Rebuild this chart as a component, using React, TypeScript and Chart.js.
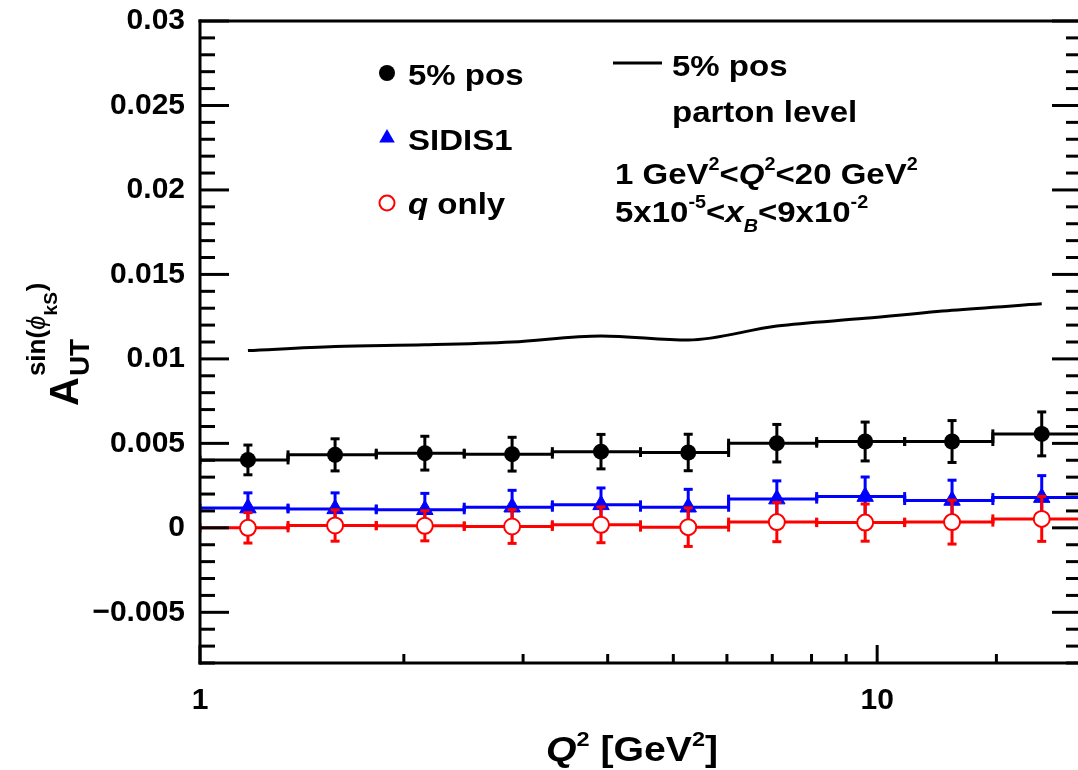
import React, { useEffect, useRef } from 'react';
import { Chart, registerables } from 'chart.js';

Chart.register(...registerables);

const FONT = '"Liberation Sans", Arial, Helvetica, "DejaVu Sans", sans-serif';

// ---- data ----
const binEdges = [1, 1.349, 1.821, 2.456, 3.314, 4.472, 6.034, 8.141, 10.98, 14.82, 20];
const binCenters = [1.177, 1.583, 2.148, 2.89, 3.91, 5.26, 7.11, 9.6, 12.9, 17.5];

const pos5Values = [0.00402, 0.00432, 0.00442, 0.00436, 0.00451, 0.00446, 0.00501, 0.00511, 0.00511, 0.00556];
const pos5Errors = [0.00088, 0.00095, 0.001, 0.001, 0.00102, 0.00108, 0.00111, 0.00115, 0.00124, 0.0013];

const sidis1Values = [0.00117, 0.00112, 0.00107, 0.00122, 0.00136, 0.00122, 0.0017, 0.00185, 0.00162, 0.00179];
const sidis1Errors = [0.0009, 0.00095, 0.00097, 0.001, 0.001, 0.00106, 0.00108, 0.00116, 0.0012, 0.0013];

const qOnlyValues = [0.0, 0.00014, 0.00012, 0.00008, 0.00018, 0.00004, 0.00034, 0.00031, 0.00034, 0.00053];
const qOnlyErrors = [0.0009, 0.00093, 0.00089, 0.001, 0.00106, 0.00114, 0.00116, 0.0011, 0.0013, 0.00133];

const partonValues = [0.01049, 0.01073, 0.01083, 0.011, 0.01136, 0.01112, 0.01195, 0.0124, 0.01288, 0.01326];

const yTickValues = [-0.005, 0, 0.005, 0.01, 0.015, 0.02, 0.025, 0.03];
const yTickLabels = ['\u22120.005', '0', '0.005', '0.01', '0.015', '0.02', '0.025', '0.03'];
const xTickValues = [1, 10];
const xTickLabels = ['1', '10'];

const BLACK = '#000000';
const BLUE = '#0000ff';
const RED = '#ff0000';

function yLabel(v: number): string {
  for (let i = 0; i < yTickValues.length; i++) {
    if (Math.abs(v - yTickValues[i]) < 1e-7) return yTickLabels[i];
  }
  return '';
}
function xLabel(v: number): string {
  for (let i = 0; i < xTickValues.length; i++) {
    if (Math.abs(v - xTickValues[i]) < 1e-9 * xTickValues[i]) return xTickLabels[i];
  }
  return '';
}

function stepData(values: number[]) {
  const pts = values.map((v, i) => ({ x: binEdges[i], y: v }));
  pts.push({ x: binEdges[binEdges.length - 1], y: values[values.length - 1] });
  return pts;
}
function pointData(values: number[]) {
  return values.map((v, i) => ({ x: binCenters[i], y: v }));
}

type Seg = { t: string; size?: number; italic?: boolean; bold?: boolean; dy?: number; color?: string };

function fontOf(s: Seg, def: number) {
  return `${s.italic ? 'italic ' : ''}${s.bold === false ? '' : 'bold '}${s.size || def}px ${FONT}`;
}

function richText(ctx: CanvasRenderingContext2D, segs: Seg[], x: number, y: number, def: number, sx = 1, center = false) {
  ctx.save();
  ctx.textBaseline = 'alphabetic';
  ctx.textAlign = 'left';
  let total = 0;
  for (const s of segs) {
    ctx.font = fontOf(s, def);
    total += ctx.measureText(s.t).width;
  }
  ctx.translate(x, y);
  ctx.scale(sx, 1);
  let cx = center ? -total / 2 : 0;
  for (const s of segs) {
    ctx.font = fontOf(s, def);
    ctx.fillStyle = s.color || BLACK;
    ctx.fillText(s.t, cx, s.dy || 0);
    cx += ctx.measureText(s.t).width;
  }
  ctx.restore();
}

function line(ctx: CanvasRenderingContext2D, x1: number, y1: number, x2: number, y2: number) {
  ctx.beginPath();
  ctx.moveTo(x1, y1);
  ctx.lineTo(x2, y2);
  ctx.stroke();
}

const seriesList = [
  { dsIndex: 2, values: pos5Values, errors: pos5Errors, color: BLACK, gap: 0 },
  { dsIndex: 4, values: sidis1Values, errors: sidis1Errors, color: BLUE, gap: 0 },
  { dsIndex: 6, values: qOnlyValues, errors: qOnlyErrors, color: RED, gap: 8 },
];

const errorBarPlugin = {
  id: 'errorBars',
  beforeDatasetDraw(chart: any, args: any) {
    const s = seriesList.find((q) => q.dsIndex === args.index);
    if (!s) return;
    const ctx: CanvasRenderingContext2D = chart.ctx;
    const xs = chart.scales.x;
    const ys = chart.scales.y;
    const a = chart.chartArea;
    ctx.save();
    ctx.beginPath();
    ctx.rect(a.left, a.top, a.right - a.left, a.bottom - a.top);
    ctx.clip();
    ctx.strokeStyle = s.color;
    ctx.lineWidth = 3;
    ctx.lineCap = 'butt';
    for (let i = 0; i < s.values.length; i++) {
      const px = xs.getPixelForValue(binCenters[i]);
      const py = ys.getPixelForValue(s.values[i]);
      const yt = ys.getPixelForValue(s.values[i] + s.errors[i]);
      const yb = ys.getPixelForValue(s.values[i] - s.errors[i]);
      if (s.gap) {
        line(ctx, px, yt, px, py - s.gap);
        line(ctx, px, py + s.gap, px, yb);
      } else {
        line(ctx, px, yt, px, yb);
      }
      line(ctx, px - 4.5, yt, px + 4.5, yt);
      line(ctx, px - 4.5, yb, px + 4.5, yb);
      for (const e of [binEdges[i], binEdges[i + 1]]) {
        const ex = xs.getPixelForValue(e);
        line(ctx, ex, py - 4.5, ex, py + 4.5);
      }
    }
    ctx.restore();
  },
};

const framePlugin = {
  id: 'frameTicks',
  afterDraw(chart: any) {
    const ctx: CanvasRenderingContext2D = chart.ctx;
    const { left, right, top, bottom } = chart.chartArea;
    const xs = chart.scales.x;
    const ys = chart.scales.y;
    ctx.save();
    ctx.strokeStyle = BLACK;
    ctx.lineWidth = 3;
    ctx.lineCap = 'butt';
    ys.ticks.forEach((t: any) => {
      const py = ys.getPixelForValue(t.value);
      const L = yLabel(t.value) !== '' ? 29 : 15;
      line(ctx, left, py, left + L, py);
      line(ctx, right, py, right - L, py);
    });
    xs.ticks.forEach((t: any) => {
      const px = xs.getPixelForValue(t.value);
      const L = xLabel(t.value) !== '' ? 18 : 9;
      line(ctx, px, bottom, px, bottom - L);
    });
    ctx.lineCap = 'square';
    line(ctx, left, top, right, top);
    line(ctx, right, top, right, bottom);
    line(ctx, left, top, left, bottom);
    line(ctx, left, bottom, right, bottom);
    ctx.restore();

    // axis titles
    richText(ctx, [
      { t: 'Q', italic: true },
      { t: '2', size: 21, dy: -15 },
      { t: ' [GeV' },
      { t: '2', size: 21, dy: -15 },
      { t: ']' },
    ], 632, 761, 35, 1.12, true);

    ctx.save();
    ctx.translate(78, 406);
    ctx.rotate(-Math.PI / 2);
    ctx.fillStyle = BLACK;
    ctx.textBaseline = 'alphabetic';
    ctx.font = `bold 40px ${FONT}`;
    ctx.fillText('A', 0, 0);
    const wA = ctx.measureText('A').width + 1;
    ctx.font = `bold 28px ${FONT}`;
    ctx.fillText('UT', wA, 11);
    let cx = wA;
    ctx.font = `bold 26px ${FONT}`;
    ctx.fillText('sin(', cx, -33);
    cx += ctx.measureText('sin(').width;
    ctx.font = `italic 26px ${FONT}`;
    ctx.fillText('\u03d5', cx, -33);
    cx += ctx.measureText('\u03d5').width;
    ctx.font = `bold 19px ${FONT}`;
    ctx.fillText('kS', cx, -21);
    cx += ctx.measureText('kS').width + 1;
    ctx.font = `bold 26px ${FONT}`;
    ctx.fillText(')', cx, -33);
    ctx.restore();

    // legend (left)
    ctx.save();
    ctx.fillStyle = BLACK;
    ctx.beginPath();
    ctx.arc(387, 73, 8, 0, Math.PI * 2);
    ctx.fill();
    ctx.fillStyle = BLUE;
    ctx.beginPath();
    ctx.moveTo(387, 138 - 9);
    ctx.lineTo(387 + 9 * 0.866, 138 + 4.5);
    ctx.lineTo(387 - 9 * 0.866, 138 + 4.5);
    ctx.closePath();
    ctx.fill();
    ctx.strokeStyle = RED;
    ctx.lineWidth = 2;
    ctx.beginPath();
    ctx.arc(387, 203, 7.5, 0, Math.PI * 2);
    ctx.stroke();
    ctx.strokeStyle = BLACK;
    ctx.lineWidth = 3;
    line(ctx, 613, 63, 662, 63);
    ctx.restore();

    richText(ctx, [{ t: '5% pos' }], 408, 85, 30, 1.1);
    richText(ctx, [{ t: 'SIDIS1' }], 408, 150, 30, 1.1);
    richText(ctx, [{ t: 'q', italic: true }, { t: ' only' }], 408, 214, 30, 1.1);

    richText(ctx, [{ t: '5% pos' }], 672, 76, 30, 1.1);
    richText(ctx, [{ t: 'parton level' }], 672, 122, 30, 1.1);
    richText(ctx, [
      { t: '1 GeV' },
      { t: '2', size: 18, dy: -14 },
      { t: '<' },
      { t: 'Q', italic: true },
      { t: '2', size: 18, dy: -14 },
      { t: '<20 GeV' },
      { t: '2', size: 18, dy: -14 },
    ], 615, 184, 30, 1.1);
    richText(ctx, [
      { t: '5x10' },
      { t: '-5', size: 18, dy: -14 },
      { t: '<' },
      { t: 'x', italic: true },
      { t: 'B', italic: true, size: 18, dy: 10 },
      { t: '<9x10' },
      { t: '-2', size: 18, dy: -14 },
    ], 615, 222, 30, 1.1);
  },
};

export default function App() {
  const ref = useRef<HTMLCanvasElement | null>(null);

  useEffect(() => {
    if (!ref.current) return;
    const tickFont = { family: FONT, size: 30, weight: 'bold' as const };
    const chart = new Chart(ref.current, {
      type: 'line',
      data: {
        datasets: [
          {
            label: '5% pos parton level',
            data: pointData(partonValues),
            borderColor: BLACK,
            borderWidth: 3,
            pointRadius: 0,
            pointHoverRadius: 0,
            fill: false,
            cubicInterpolationMode: 'monotone',
            order: 10,
          },
          {
            label: '5% pos bins',
            data: stepData(pos5Values),
            borderColor: BLACK,
            borderWidth: 3,
            pointRadius: 0,
            pointHoverRadius: 0,
            stepped: 'before',
            fill: false,
            order: 9,
          },
          {
            label: '5% pos',
            data: pointData(pos5Values),
            showLine: false,
            pointStyle: 'circle',
            pointRadius: 8,
            pointBackgroundColor: BLACK,
            pointBorderColor: BLACK,
            pointBorderWidth: 0,
            order: 8,
          },
          {
            label: 'SIDIS1 bins',
            data: stepData(sidis1Values),
            borderColor: BLUE,
            borderWidth: 3,
            pointRadius: 0,
            pointHoverRadius: 0,
            stepped: 'before',
            fill: false,
            order: 7,
          },
          {
            label: 'SIDIS1',
            data: pointData(sidis1Values),
            showLine: false,
            pointStyle: 'triangle',
            pointRadius: 9.5,
            pointBackgroundColor: BLUE,
            pointBorderColor: BLUE,
            pointBorderWidth: 1,
            order: 6,
          },
          {
            label: 'q only bins',
            data: stepData(qOnlyValues),
            borderColor: RED,
            borderWidth: 3,
            pointRadius: 0,
            pointHoverRadius: 0,
            stepped: 'before',
            fill: false,
            order: 5,
          },
          {
            label: 'q only',
            data: pointData(qOnlyValues),
            showLine: false,
            pointStyle: 'circle',
            pointRadius: 8,
            pointBackgroundColor: '#ffffff',
            pointBorderColor: RED,
            pointBorderWidth: 2,
            order: 4,
          },
        ],
      } as any,
      options: {
        responsive: false,
        animation: false,
        events: [],
        layout: { padding: { top: 21, right: 19, left: 0, bottom: 0 } },
        plugins: { legend: { display: false }, tooltip: { enabled: false }, title: { display: false } },
        scales: {
          x: {
            type: 'logarithmic',
            min: 1,
            max: 20,
            position: 'bottom',
            grid: { display: false, drawTicks: false },
            border: { display: false },
            ticks: {
              autoSkip: false,
              maxRotation: 0,
              minRotation: 0,
              padding: 20,
              color: BLACK,
              font: tickFont,
              callback: (v: any) => xLabel(Number(v)),
            },
            afterFit: (s: any) => {
              s.height = 107;
              s.paddingLeft = 0;
              s.paddingRight = 0;
            },
          },
          y: {
            type: 'linear',
            min: -0.008,
            max: 0.03,
            grid: { display: false, drawTicks: false },
            border: { display: false },
            ticks: {
              stepSize: 0.001,
              maxTicksLimit: 100,
              autoSkip: false,
              padding: 15,
              color: BLACK,
              font: tickFont,
              callback: (v: any) => yLabel(Number(v)),
            },
            afterFit: (s: any) => {
              s.width = 200;
              s.paddingTop = 0;
              s.paddingBottom = 0;
            },
          },
        },
      } as any,
      plugins: [errorBarPlugin, framePlugin],
    });
    return () => chart.destroy();
  }, []);

  return (
    <div
      style={{
        position: 'fixed',
        left: 0,
        top: 0,
        width: 1078,
        height: 770,
        overflow: 'hidden',
        background: '#ffffff',
      }}
    >
      <canvas ref={ref} width={1100} height={770} style={{ display: 'block' }} />
    </div>
  );
}
